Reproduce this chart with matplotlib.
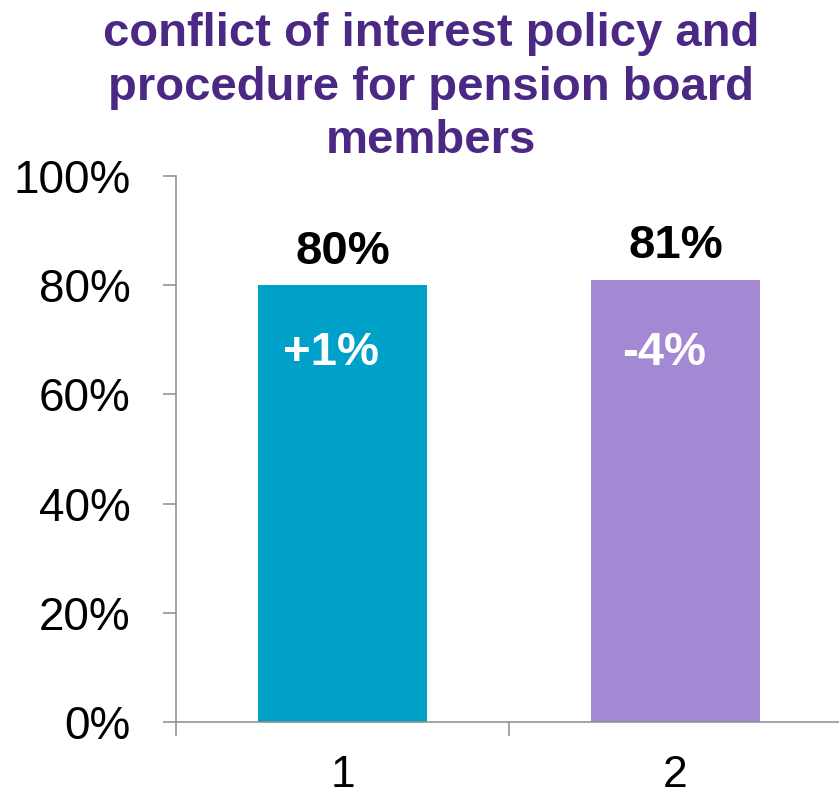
import numpy as np
import matplotlib
matplotlib.use("Agg")
import matplotlib.pyplot as plt

# ── Data ─────────────────────────────────────────────
categories = ["1", "2"]
shares     = [80, 81]            # % of respondents
changes    = ["+1%", "-4%"]      # change vs previous survey
bar_colors = ["#00A1C9", "#A389D4"]

TITLE = "conflict of interest policy and\nprocedure for pension board\nmembers"
TITLE_COLOR = "#4B2884"
AXIS_GRAY = "#8C8C8C"

plt.rcParams["font.family"] = ["Liberation Sans", "DejaVu Sans"]

fig = plt.figure(figsize=(8.39, 7.99), dpi=100)
ax = fig.add_axes([0.2098, 0.0964, 0.7938, 0.6833])

x = np.arange(len(categories))
bars = ax.bar(x, shares, width=0.505, color=bar_colors, zorder=2)

# value labels above bars, change labels inside
for xi, val, chg in zip(x, shares, changes):
    ax.text(xi, val + 3.9, f"{val}%", ha="center", va="baseline",
            fontsize=34, fontweight="bold", color="black")
    ax.text(xi - 0.035, 65.4, chg, ha="center", va="baseline",
            fontsize=34, fontweight="bold", color="white")

ax.set_xlim(-0.5, 1.5)
ax.set_ylim(0, 100)
ax.set_yticks(np.arange(0, 101, 20))
ax.set_yticklabels([f"{v}%" for v in range(0, 101, 20)])
ax.set_xticks(x)
ax.set_xticklabels(categories)
ax.set_xticks([-0.5, 0.5, 1.5], minor=True)

ax.tick_params(axis="y", direction="out", length=9.4, width=1.1,
               color=AXIS_GRAY, labelsize=33, pad=23.5)
ax.tick_params(axis="x", which="major", length=0, labelsize=32, pad=24)
ax.tick_params(axis="x", which="minor", direction="out", length=10,
               width=1.1, color=AXIS_GRAY)

for side in ("top", "right"):
    ax.spines[side].set_visible(False)
for side in ("left", "bottom"):
    ax.spines[side].set_color(AXIS_GRAY)
    ax.spines[side].set_linewidth(1.1)
ax.spines["bottom"].set_zorder(3)

fig.text(0.514, 0.985, TITLE, ha="center", va="top", fontsize=34,
         fontweight="bold", color=TITLE_COLOR, linespacing=1.28)

fig.savefig("out.png", dpi=100)
